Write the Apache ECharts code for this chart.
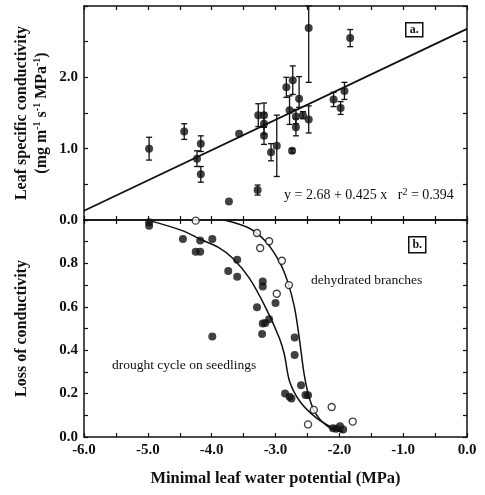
<!DOCTYPE html>
<html>
<head>
<meta charset="utf-8">
<script src="https://cdn.jsdelivr.net/npm/echarts@6/dist/echarts.min.js"></script>
<style>html,body{margin:0;padding:0;background:#fff;}#c{width:485px;height:495px;}</style>
</head>
<body>
<div id="c"></div>
<script>
// ---- Panel a: leaf specific conductivity vs minimal leaf water potential ----
const lscX  = [-4.98,-4.43,-4.17,-4.23,-4.17,-3.73,-3.57,-3.28,-3.27,-3.18,-3.18,-3.18,-3.07,-2.98,-2.83,-2.73,-2.78,-2.74,-2.63,-2.68,-2.68,-2.57,-2.48,-2.48,-2.09,-1.98,-1.92,-1.83];
const lscY  = [1.00,1.24,1.07,0.86,0.64,0.26,1.21,0.42,1.47,1.47,1.35,1.18,0.95,1.04,1.86,1.96,1.54,0.97,1.70,1.30,1.45,1.47,2.69,1.41,1.69,1.57,1.81,2.55];
const lscLo = [0.16,0.11,0.11,0.11,0.11,0,0,0.07,0.16,0.17,0.15,0.12,0.12,0.43,0.14,0.20,0.20,0.03,0.12,0.12,0.10,0.05,0.76,0.19,0.10,0.09,0.12,0.12];
const lscHi = [0.16,0.11,0.11,0.11,0.11,0,0,0.07,0.16,0.17,0.15,0.12,0.12,0.43,0.14,0.20,0.20,0.03,0.31,0.12,0.10,0.05,0.31,0.19,0.10,0.09,0.12,0.12];
const fitLine = [[-6.0, 0.13], [0.0, 2.68]];   // y = 2.68 + 0.425 x

// ---- Panel b: loss of conductivity ----
const seedX = [-4.98,-4.98,-4.45,-4.18,-3.99,-4.25,-4.18,-3.60,-3.74,-3.60,-3.20,-3.20,-3.00,-3.29,-3.10,-3.16,-3.20,-3.21,-3.99,-2.70,-2.70,-2.60,-2.85,-2.78,-2.75,-2.53,-2.49,-2.10,-2.05,-1.99,-1.94];
const seedY = [0.99,0.974,0.912,0.905,0.912,0.854,0.854,0.817,0.765,0.738,0.717,0.694,0.617,0.598,0.543,0.525,0.523,0.475,0.463,0.458,0.378,0.238,0.200,0.185,0.177,0.194,0.192,0.040,0.038,0.050,0.035];
const branchX = [-4.25,-3.29,-3.10,-3.24,-2.90,-2.79,-2.98,-2.40,-2.49,-2.12,-1.79];
const branchY = [0.997,0.940,0.902,0.871,0.812,0.700,0.660,0.125,0.058,0.138,0.071];
const seedCurve = [[-4.97,0.997],[-4.45,0.95],[-4.17,0.91],[-3.90,0.875],[-3.67,0.824],[-3.41,0.732],[-3.15,0.594],[-2.94,0.456],[-2.86,0.379],[-2.78,0.257],[-2.62,0.165],[-2.36,0.088],[-2.10,0.042],[-1.94,0.027]];
const branchCurve = [[-3.80,1.0],[-3.41,0.962],[-3.15,0.90],[-2.94,0.808],[-2.81,0.716],[-2.70,0.594],[-2.62,0.44],[-2.55,0.287],[-2.47,0.18],[-2.36,0.103],[-2.15,0.042],[-1.94,0.022]];

const xTickLabels = ['-6.0','-5.0','-4.0','-3.0','-2.0','-1.0','0.0'];
const topYLabels = ['0.0','1.0','2.0'];
const botYLabels = ['0.0','0.2','0.4','0.6','0.8'];

const FONT = '"Liberation Serif", "Times New Roman", serif';
const BLACK = '#111';

const zip = (a, b) => a.map((v, i) => [v, b[i]]);
const errData = lscX.map((x, i) => [x, lscY[i], lscLo[i], lscHi[i]]);

function fmtLabel(list) {
  return v => {
    const s = (Math.round(v * 10) / 10).toFixed(1);
    return list.includes(s) ? s : '';
  };
}

const axLine = { show: true, onZero: false, lineStyle: { color: BLACK, width: 1.5 } };
const tick = { show: true, inside: true, length: 4, lineStyle: { color: BLACK, width: 1.2 } };
const lblStyle = { fontFamily: FONT, fontWeight: 'bold', fontSize: 15, color: BLACK };

function xAx(grid, pos, labels) {
  return {
    type: 'value', gridIndex: grid, position: pos, min: -6, max: 0, interval: 0.5,
    axisLine: axLine, axisTick: tick, splitLine: { show: false },
    axisLabel: labels ? Object.assign({ margin: 6, formatter: fmtLabel(xTickLabels) }, lblStyle) : { show: false }
  };
}
function yAx(grid, pos, max, interval, labels, name, nameGap) {
  const o = {
    type: 'value', gridIndex: grid, position: pos, min: 0, max: max, interval: interval,
    axisLine: axLine, axisTick: tick, splitLine: { show: false },
    axisLabel: labels ? Object.assign({ margin: 6, formatter: fmtLabel(labels) }, lblStyle) : { show: false }
  };
  if (name) {
    o.name = name;
    o.nameLocation = 'middle';
    o.nameGap = nameGap;
    o.nameMoveOverlap = false;
    o.nameTextStyle = {
      fontFamily: FONT, fontWeight: 'bold', fontSize: 16, color: BLACK, lineHeight: 20,
      rich: {
        b: { fontFamily: FONT, fontWeight: 'bold', fontSize: 16, color: BLACK, lineHeight: 20 },
        sup: { fontFamily: FONT, fontWeight: 'bold', fontSize: 10, color: BLACK, lineHeight: 20, verticalAlign: 'top', padding: [0, 0, 8, 0] }
      }
    };
  }
  return o;
}

const chart = echarts.init(document.getElementById('c'), null, { renderer: 'canvas' });
chart.setOption({
  animation: false,
  backgroundColor: '#fff',
  grid: [
    { left: 84, right: 18, top: 6, height: 214 },
    { left: 84, right: 18, top: 220, height: 217 }
  ],
  xAxis: [
    xAx(0, 'bottom', false),
    xAx(0, 'top', false),
    Object.assign(xAx(1, 'bottom', true), {
      name: 'Minimal leaf water potential (MPa)', nameLocation: 'middle', nameGap: 33,
      nameTextStyle: { fontFamily: FONT, fontWeight: 'bold', fontSize: 16.5, color: BLACK }
    }),
    xAx(1, 'top', false)
  ],
  yAxis: [
    yAx(0, 'left', 3, 0.5, topYLabels, '{b|Leaf specific conductivity}\n{b|(mg m}{sup|-1}{b| s}{sup|-1}{b| MPa}{sup|-1}{b|)}', 32),
    yAx(0, 'right', 3, 0.5, null),
    yAx(1, 'left', 1, 0.1, botYLabels, 'Loss of conductivity', 52),
    yAx(1, 'right', 1, 0.1, null)
  ],
  series: [
    {
      type: 'line', xAxisIndex: 0, yAxisIndex: 0, data: fitLine, showSymbol: false,
      lineStyle: { color: BLACK, width: 1.8 }, silent: true
    },
    {
      type: 'custom', xAxisIndex: 0, yAxisIndex: 0, data: errData,
      encode: { x: 0, y: 1 },
      renderItem: function (params, api) {
        const x = api.value(0), y = api.value(1), lo = api.value(2), hi = api.value(3);
        if (!lo && !hi) return null;
        const p1 = api.coord([x, y - lo]);
        const p2 = api.coord([x, y + hi]);
        const c = 3;
        const st = { stroke: BLACK, lineWidth: 1.3 };
        return {
          type: 'group',
          children: [
            { type: 'line', shape: { x1: p1[0], y1: p1[1], x2: p2[0], y2: p2[1] }, style: st },
            { type: 'line', shape: { x1: p1[0] - c, y1: p1[1], x2: p1[0] + c, y2: p1[1] }, style: st },
            { type: 'line', shape: { x1: p2[0] - c, y1: p2[1], x2: p2[0] + c, y2: p2[1] }, style: st }
          ]
        };
      },
      z: 3
    },
    {
      type: 'scatter', xAxisIndex: 0, yAxisIndex: 0, data: zip(lscX, lscY),
      symbol: 'circle', symbolSize: 8, itemStyle: { color: BLACK }, z: 4
    },
    {
      type: 'line', xAxisIndex: 2, yAxisIndex: 2, data: seedCurve, showSymbol: false,
      smooth: 0.3, lineStyle: { color: BLACK, width: 1.5 }
    },
    {
      type: 'line', xAxisIndex: 2, yAxisIndex: 2, data: branchCurve, showSymbol: false,
      smooth: 0.3, lineStyle: { color: BLACK, width: 1.5 }
    },
    {
      type: 'scatter', xAxisIndex: 2, yAxisIndex: 2, data: zip(seedX, seedY),
      symbol: 'circle', symbolSize: 8, itemStyle: { color: BLACK }, z: 4
    },
    {
      type: 'scatter', xAxisIndex: 2, yAxisIndex: 2, data: zip(branchX, branchY),
      symbol: 'circle', symbolSize: 7, itemStyle: { color: '#fff', borderColor: BLACK, borderWidth: 1.4 }, z: 5
    }
  ],
  graphic: [
    {
      type: 'text', left: 284, top: 187,
      style: {
        text: 'y = 2.68 + 0.425 x   r{sup|2} = 0.394',
        font: '14px ' + FONT, fill: BLACK,
        rich: { sup: { fontSize: 10, fontFamily: FONT, verticalAlign: 'top', padding: [0, 0, 6, 0], fill: BLACK } }
      }
    },
    {
      type: 'text', left: 311, top: 273,
      style: { text: 'dehydrated branches', font: '13.5px ' + FONT, fill: BLACK }
    },
    {
      type: 'text', left: 112, top: 358,
      style: { text: 'drought cycle on seedlings', font: '13.5px ' + FONT, fill: BLACK }
    },
    {
      type: 'group', left: 405, top: 22,
      children: [
        { type: 'rect', shape: { x: 0, y: 0, width: 17, height: 14 }, style: { fill: '#fff', stroke: BLACK, lineWidth: 1.5 } },
        { type: 'text', x: 8.5, y: 7, style: { text: 'a.', font: 'bold 12px ' + FONT, fill: BLACK, align: 'center', verticalAlign: 'middle' } }
      ]
    },
    {
      type: 'group', left: 408, top: 236,
      children: [
        { type: 'rect', shape: { x: 0, y: 0, width: 17, height: 16 }, style: { fill: '#fff', stroke: BLACK, lineWidth: 1.5 } },
        { type: 'text', x: 8.5, y: 8, style: { text: 'b.', font: 'bold 12px ' + FONT, fill: BLACK, align: 'center', verticalAlign: 'middle' } }
      ]
    }
  ]
});
</script>
</body>
</html>
